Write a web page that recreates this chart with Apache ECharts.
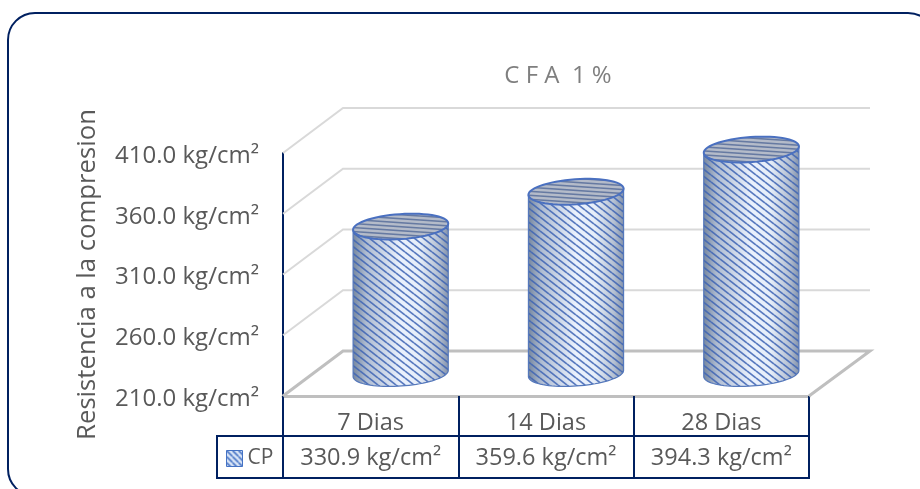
<!DOCTYPE html>
<html><head><meta charset="utf-8">
<style>html,body{margin:0;padding:0;background:#fff}#c{width:920px;height:489px}</style>
<script src="https://cdn.jsdelivr.net/npm/echarts@6/dist/echarts.min.js"></script>
</head><body><div id="c"></div>
<script>
const categories = ['7 Dias', '14 Dias', '28 Dias'];
const seriesName = 'CP';
const values = [330.9, 359.6, 394.3];
const yTicks = [210, 260, 310, 360, 410];
const titleText = 'C F A  1 %';
const yAxisName = 'Resistencia a la compresion';
const unit = ' kg/cm²';

const FONT = '"Open Sans", sans-serif', TXT = '#595959', NAVY = '#002060';
const DX = 60, DY = -45;          // depth of the 3D box

function tile(w, h, bg, fg, lw) {
  const c = document.createElement('canvas'); c.width = w; c.height = h;
  const g = c.getContext('2d');
  if (bg) { g.fillStyle = bg; g.fillRect(0, 0, w, h); }
  g.strokeStyle = fg; g.lineWidth = lw;
  for (let k = -1; k <= 1; k++) {
    g.beginPath(); g.moveTo(0, k * h); g.lineTo(w, k * h + h); g.stroke();
  }
  return c;
}
const sideTile = tile(9, 7, null, 'rgba(62,100,180,0.85)', 1.7);
const topTile = tile(60, 4, '#b4bbc9', 'rgba(88,110,155,0.85)', 1.6);
const legendTile = tile(6, 6, '#dbe6f7', '#4472C4', 1.6);

function ellipsePt(cx, cy, a, b, t) {
  const r = -0.07;
  return [
    cx + a * Math.cos(t) * Math.cos(r) - b * Math.sin(t) * Math.sin(r),
    cy + a * Math.cos(t) * Math.sin(r) + b * Math.sin(t) * Math.cos(r)
  ];
}
function ellipseArc(cx, cy, a, b, t0, t1, n) {
  const out = [];
  for (let i = 0; i <= n; i++) out.push(ellipsePt(cx, cy, a, b, t0 + (t1 - t0) * i / n));
  return out;
}

function renderCylinder(params, api) {
  const base = api.coord([api.value(0), yTicks[0]]);
  const top = api.coord([api.value(0), api.value(1)]);
  const band = api.size([1, 0])[0];
  const a = band * 0.272, b = 12.5;
  const cx = base[0] + DX / 2, by = base[1] + DY / 2, ty = top[1] + DY / 2;
  const bottomArc = ellipseArc(cx, by, a, b, 0, Math.PI, 40);
  const topArc = ellipseArc(cx, ty, a, b, 0, Math.PI * 2, 60);
  const body = [ellipsePt(cx, ty, a, b, 0)].concat(bottomArc, [ellipsePt(cx, ty, a, b, Math.PI)]);
  const grad = new echarts.graphic.LinearGradient(0, 0, 1, 0, [
    { offset: 0, color: '#76879f' }, { offset: 0.14, color: '#b0bdd2' },
    { offset: 0.5, color: '#eaf1fd' }, { offset: 0.7, color: '#e6eef9' },
    { offset: 0.9, color: '#b5c0d2' }, { offset: 1, color: '#8493ab' }
  ]);
  return { type: 'group', children: [
    { type: 'polygon', shape: { points: body }, style: { fill: grad } },
    { type: 'polygon', shape: { points: body }, style: { fill: { image: sideTile, repeat: 'repeat' }, stroke: '#5578bb', lineWidth: 1.2 } },
    { type: 'polygon', shape: { points: topArc }, style: { fill: { image: topTile, repeat: 'repeat' }, stroke: '#4a70c0', lineWidth: 2 } }
  ]};
}

function renderWall(params, api) {
  const p = api.coord([0, api.value(0)]);
  const rect = params.coordSys;
  const isFloor = api.value(0) === yTicks[0];
  const x0 = rect.x, y0 = p[1];
  const pts = [[x0, y0], [x0 + DX, y0 + DY], [x0 + rect.width + DX + 1, y0 + DY]];
  if (isFloor) pts.push([x0 + rect.width, y0]);
  return { type: 'polyline', shape: { points: pts },
    style: { fill: 'none', stroke: isFloor ? '#BFBFBF' : '#D9D9D9', lineWidth: isFloor ? 3 : 2 } };
}

const chart = echarts.init(document.getElementById('c'), null, { renderer: 'canvas' });
chart.setOption({
  animation: false,
  backgroundColor: '#fff',
  title: { text: titleText, left: 553, top: 59, textAlign: 'center',
    textStyle: { fontFamily: FONT, fontSize: 24, fontWeight: 'normal', color: '#7f7f7f' } },
  grid: { left: 283, top: 153, width: 526, height: 243, containLabel: false },
  legend: { left: 226, top: 448, padding: 0, itemWidth: 16, itemHeight: 16, itemGap: 0,
    data: [{ name: seriesName, icon: 'rect', itemStyle: { color: { image: legendTile, repeat: 'repeat' }, borderColor: '#4472C4', borderWidth: 1 } }],
    textStyle: { fontFamily: FONT, fontSize: 21, color: TXT } },
  xAxis: [
    { type: 'category', data: categories, position: 'bottom',
      axisLine: { lineStyle: { color: '#BFBFBF', width: 3 } },
      axisTick: { show: true, length: 40, lineStyle: { color: NAVY, width: 2 } },
      axisLabel: { interval: 0, margin: 15, fontFamily: FONT, fontSize: 23.5, color: TXT } },
    { type: 'category', data: values.map(v => v.toFixed(1) + unit), position: 'bottom', offset: 40,
      axisLine: { lineStyle: { color: NAVY, width: 2 } },
      axisTick: { show: true, length: 42, lineStyle: { color: NAVY, width: 2 } },
      axisLabel: { interval: 0, margin: 10, fontFamily: FONT, fontSize: 23.5, color: TXT } }
  ],
  yAxis: { type: 'value', min: yTicks[0], max: yTicks[yTicks.length - 1], interval: 50,
    name: yAxisName, nameLocation: 'middle', nameGap: 182, nameRotate: 90,
    nameTextStyle: { fontFamily: FONT, fontSize: 25.7, color: TXT },
    axisLine: { show: true, lineStyle: { color: NAVY, width: 2 } },
    axisTick: { show: false }, splitLine: { show: false },
    axisLabel: { margin: 24, fontFamily: FONT, fontSize: 24, color: TXT, verticalAlign: 'top', lineHeight: 6,
      formatter: v => v.toFixed(1) + unit } },
  graphic: [
    { type: 'rect', z: -10, silent: true, shape: { x: 8, y: 13, width: 927, height: 483, r: 27 },
      style: { fill: '#fff', stroke: NAVY, lineWidth: 2 } },
    { type: 'rect', z: 1, silent: true, shape: { x: 217, y: 436, width: 592, height: 42 },
      style: { fill: 'none', stroke: NAVY, lineWidth: 2 } }
  ],
  series: [
    { type: 'custom', name: 'walls', silent: true, clip: false, z: 1, xAxisIndex: 0, renderItem: renderWall,
      encode: { y: 0 }, data: yTicks.map(v => [v]) },
    { type: 'custom', name: seriesName, silent: true, clip: false, z: 3, xAxisIndex: 0, renderItem: renderCylinder,
      encode: { x: 0, y: 1 }, itemStyle: { color: '#4472C4' },
      data: values.map((v, i) => [i, v]) }
  ]
});
</script></body></html>
